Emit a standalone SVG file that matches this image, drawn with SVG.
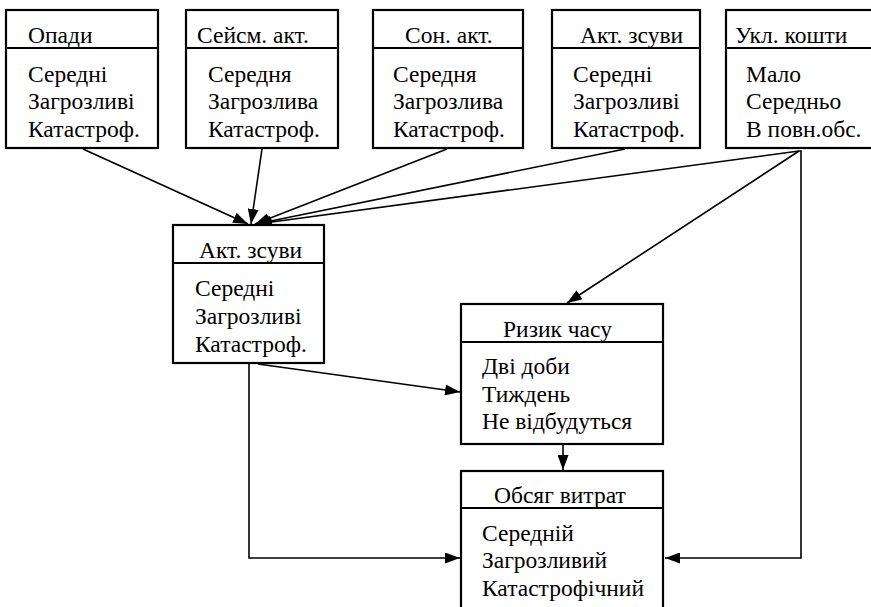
<svg xmlns="http://www.w3.org/2000/svg" width="871" height="607" viewBox="0 0 871 607">
<style>
.box{fill:#fff;stroke:#000;stroke-width:2.2}
.div{stroke:#000;stroke-width:1.8}
text{font-family:'Liberation Serif','Times New Roman',serif;font-size:23.5px;fill:#000}
.c{fill:none;stroke:#000;stroke-width:1.6}
</style>
<defs>
<marker id="ah" markerUnits="userSpaceOnUse" markerWidth="15" markerHeight="11" refX="15" refY="5.5" orient="auto">
<path d="M0,0 L15,5.5 L0,11 z" fill="#000"/>
</marker>
</defs>
<g id="connectors">
<line class="c" x1="83" y1="149" x2="248" y2="224" marker-end="url(#ah)"/>
<line class="c" x1="262" y1="149" x2="251" y2="224" marker-end="url(#ah)"/>
<line class="c" x1="447" y1="149" x2="255" y2="224" marker-end="url(#ah)"/>
<line class="c" x1="625" y1="149" x2="256" y2="224" marker-end="url(#ah)"/>
<line class="c" x1="799" y1="151" x2="257" y2="224" marker-end="url(#ah)"/>
<line class="c" x1="799" y1="151" x2="567" y2="303" marker-end="url(#ah)"/>
<polyline class="c" points="799,151 801,151 801,558 665,558" marker-end="url(#ah)"/>
<line class="c" x1="258" y1="364" x2="460" y2="392" marker-end="url(#ah)"/>
<polyline class="c" points="249,364 249,558 460,558" marker-end="url(#ah)"/>
<line class="c" x1="563" y1="445" x2="563" y2="470" marker-end="url(#ah)"/>
</g>
<g id="opady">
<rect class="box" x="6" y="10" width="152" height="138"/>
<line class="div" x1="6" y1="48" x2="158" y2="48"/>
<text x="28" y="43">Опади</text>
<text x="28" y="82">Середні</text>
<text x="28" y="109">Загрозливі</text>
<text x="28" y="137">Катастроф.</text>
</g>
<g id="seism">
<rect class="box" x="186" y="10" width="152" height="138"/>
<line class="div" x1="186" y1="48" x2="338" y2="48"/>
<text x="197" y="43">Сейсм. акт.</text>
<text x="208" y="82">Середня</text>
<text x="208" y="109">Загрозлива</text>
<text x="208" y="137">Катастроф.</text>
</g>
<g id="son">
<rect class="box" x="373" y="10" width="150" height="138"/>
<line class="div" x1="373" y1="48" x2="523" y2="48"/>
<text x="405" y="43">Сон. акт.</text>
<text x="393" y="82">Середня</text>
<text x="393" y="109">Загрозлива</text>
<text x="393" y="137">Катастроф.</text>
</g>
<g id="zsuvy">
<rect class="box" x="552" y="10" width="148" height="138"/>
<line class="div" x1="552" y1="48" x2="700" y2="48"/>
<text x="580" y="43">Акт. зсуви</text>
<text x="573" y="82">Середні</text>
<text x="573" y="109">Загрозливі</text>
<text x="573" y="137">Катастроф.</text>
</g>
<g id="koshty">
<rect class="box" x="726" y="10" width="160" height="138"/>
<line class="div" x1="726" y1="48" x2="886" y2="48"/>
<text x="735" y="43">Укл. кошти</text>
<text x="746" y="82">Мало</text>
<text x="746" y="109">Середньо</text>
<text x="746" y="137">В повн.обс.</text>
</g>
<g id="zsuvy-mid">
<rect class="box" x="173" y="225" width="151" height="138"/>
<line class="div" x1="173" y1="263" x2="324" y2="263"/>
<text x="199" y="258">Акт. зсуви</text>
<text x="195" y="296">Середні</text>
<text x="195" y="324">Загрозливі</text>
<text x="195" y="352">Катастроф.</text>
</g>
<g id="ryzyk">
<rect class="box" x="461" y="304" width="202" height="140"/>
<line class="div" x1="461" y1="342" x2="663" y2="342"/>
<text x="503" y="337">Ризик часу</text>
<text x="482" y="374">Дві доби</text>
<text x="482" y="402">Тиждень</text>
<text x="482" y="429">Не відбудуться</text>
</g>
<g id="obsyag">
<rect class="box" x="461" y="471" width="202" height="150"/>
<line class="div" x1="461" y1="508" x2="663" y2="508"/>
<text x="494" y="503">Обсяг витрат</text>
<text x="482" y="541">Середній</text>
<text x="482" y="568">Загрозливий</text>
<text x="482" y="596">Катастрофічний</text>
</g>
</svg>
